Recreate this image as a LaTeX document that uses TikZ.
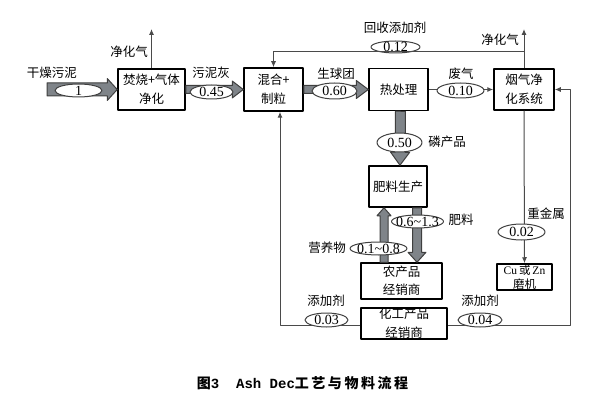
\documentclass[tikz,border=0pt]{standalone}
\usepackage{fontspec}
\setmainfont{Liberation Serif}
\newfontfamily\cjk{Noto Sans CJK SC}
\newfontfamily\capmono{Liberation Mono}
\usetikzlibrary{calc,arrows.meta,shapes.geometric}

\definecolor{arrgray}{HTML}{7F8489}
\definecolor{arredge}{HTML}{3F3F3F}
\definecolor{linegray}{HTML}{4A4A4A}

% fat flow arrow: from, to, half shaft, half head, head length
\newcommand{\fatarrow}[5]{%
  \coordinate (fa-h) at ($(#2)!#5!(#1)$);
  \draw[fatarr] ($(#1)!#3!90:(#2)$) -- ($(fa-h)!#3!90:(#2)$) -- ($(fa-h)!#4!90:(#2)$)
    -- (#2) -- ($(fa-h)!#4!-90:(#2)$) -- ($(fa-h)!#3!-90:(#2)$) -- ($(#1)!#3!-90:(#2)$) -- cycle;}

\begin{document}
\begin{tikzpicture}[x=1pt, y=-1pt, line join=round,
    box/.style={draw=black, line width=1.5pt, fill=white, align=center, inner sep=0pt,
                font=\cjk\fontsize{12.5}{19}\selectfont},
    val/.style={ellipse, draw=black!75, line width=1pt, fill=white, inner sep=-12pt,
                font=\fontsize{14}{14}\selectfont},
    lbl/.style={inner sep=0pt, font=\cjk\fontsize{12.5}{14}\selectfont},
    flow/.style={draw=linegray, line width=1pt},
    flowarr/.style={flow, -{Latex[length=6pt,width=5pt]}},
    fatarr/.style={fill=arrgray, draw=arredge, line width=1pt}]
    \useasboundingbox (0,0) rectangle (590,404);

    % Process boxes
    \node[box, minimum width=67, minimum height=41] (burn) at (151.5,89.5) {焚烧+气体\\净化};
    \node[box, minimum width=59, minimum height=43] (mix) at (273.5,89.5) {混合+\\制粒};
    \node[box, minimum width=59, minimum height=42] (heat) at (398.5,89.5) {热处理};
    \node[box, minimum width=60, minimum height=41] (clean) at (524,89.5) {烟气净\\化系统};
    \node[box, minimum width=58, minimum height=41] (fert) at (398,186.5) {肥料生产};
    \node[box, minimum width=81, minimum height=36, font=\cjk\fontsize{12.5}{18}\selectfont] (agri) at (401.5,281) {农产品\\经销商};
    \node[box, minimum width=86, minimum height=31] (chem) at (404,323.5) {化工产品\\经销商};
    \node[box, minimum width=55, minimum height=26, font=\cjk\fontsize{11.5}{14}\selectfont] (mill) at (524.5,277) {{\rmfamily Cu\,}或{\rmfamily\,Zn}\\磨机};

    % Free ends of the flows
    \coordinate (sludge) at (47,89.5);
    \coordinate (burn-out) at (burn.north |- 0,29);
    \coordinate (clean-out) at (clean.north |- 0,29);
    \coordinate (recyc) at (clean.north |- 0,52);
    \coordinate (p-top) at ([xshift=2]heat.south);
    \coordinate (p-bot) at ([xshift=2]fert.north);
    \coordinate (nut-s) at (agri.north -| 384,0);
    \coordinate (nut-e) at (fert.south -| 384,0);
    \coordinate (fer-s) at (fert.south -| 417,0);
    \coordinate (fer-e) at (agri.north -| 417,0);
    \coordinate (loopL) at (280,325);
    \coordinate (loopR) at (570,325);

    % Main material flows (fat arrows)
    \fatarrow{sludge}{burn.west}{6.5pt}{11pt}{10pt}
    \fatarrow{burn.east}{mix.west}{4pt}{8.5pt}{11pt}
    \fatarrow{mix.east}{heat.west}{4pt}{9pt}{12pt}
    \fatarrow{p-top}{p-bot}{5pt}{9.5pt}{13pt}
    \fatarrow{nut-s}{nut-e}{4pt}{7pt}{8pt}
    \fatarrow{fer-s}{fer-e}{4.5pt}{9pt}{10pt}

    % Recycled additive ellipse (under the line)
    \node[val, minimum width=49, minimum height=12] (v012) at (395.5,47) {0.12};

    % Thin flows
    \draw[flowarr] (burn.north) -- (burn-out);
    \draw[flowarr] (clean.north) -- (clean-out);
    \draw[flowarr] (recyc) -| (mix.north);
    \draw[flowarr] (heat.east) -- (clean.west);
    \draw[flowarr] (clean.south) -- (mill.north);
    \draw[flowarr] (chem.east |- loopR) -- (loopR) |- (clean.east);
    \draw[flowarr] (chem.west |- loopL) -- (loopL) -- (loopL |- mix.south);

    % Flow values
    \node[val, minimum width=47, minimum height=13] (v1) at (78.5,90.5) {1};
    \node[val, minimum width=43, minimum height=14] (v045) at (211.5,92) {0.45};
    \node[val, minimum width=45, minimum height=16] (v060) at (334.5,91) {0.60};
    \node[val, minimum width=47, minimum height=15] (v010) at (460.5,90.5) {0.10};
    \node[val, minimum width=45, minimum height=19] (v050) at (399.5,142.5) {0.50};
    \node[val, minimum width=52, minimum height=13] (v0613) at (417.5,221.5) {0.6\char`\~1.3};
    \node[val, minimum width=57, minimum height=13] (v0108) at (378.5,248.5) {0.1\char`\~0.8};
    \node[val, minimum width=47, minimum height=16] (v002) at (521.5,232) {0.02};
    \node[val, minimum width=43, minimum height=14] (v003) at (326.5,320) {0.03};
    \node[val, minimum width=44, minimum height=14] (v004) at (480,320) {0.04};

    % Flow labels
    \node[lbl] (l-sludge) at (52,73) {干燥污泥};
    \node[lbl] (l-gas1) at (129,52) {净化气};
    \node[lbl] (l-ash) at (211,73) {污泥灰};
    \node[lbl] (l-pellet) at (336,74) {生球团};
    \node[lbl] (l-recyc) at (395,28) {回收添加剂};
    \node[lbl] (l-gas2) at (500,40) {净化气};
    \node[lbl] (l-waste) at (461,74) {废气};
    \node[lbl] (l-phos) at (447,142) {磷产品};
    \node[lbl] (l-fert) at (461,220) {肥料};
    \node[lbl] (l-nut) at (327,248) {营养物};
    \node[lbl] (l-metal) at (546,214) {重金属};
    \node[lbl] (l-add1) at (326,301) {添加剂};
    \node[lbl] (l-add2) at (480,301) {添加剂};

    % Caption
    \node[inner sep=0pt, font=\fontsize{14}{16}\selectfont] (caption) at (302.5,383)
      {{\cjk\bfseries 图}{\capmono\bfseries 3\ \ Ash Dec}{\cjk\bfseries\addfontfeature{LetterSpace=18}工艺与物料流程}};
\end{tikzpicture}
\end{document}
